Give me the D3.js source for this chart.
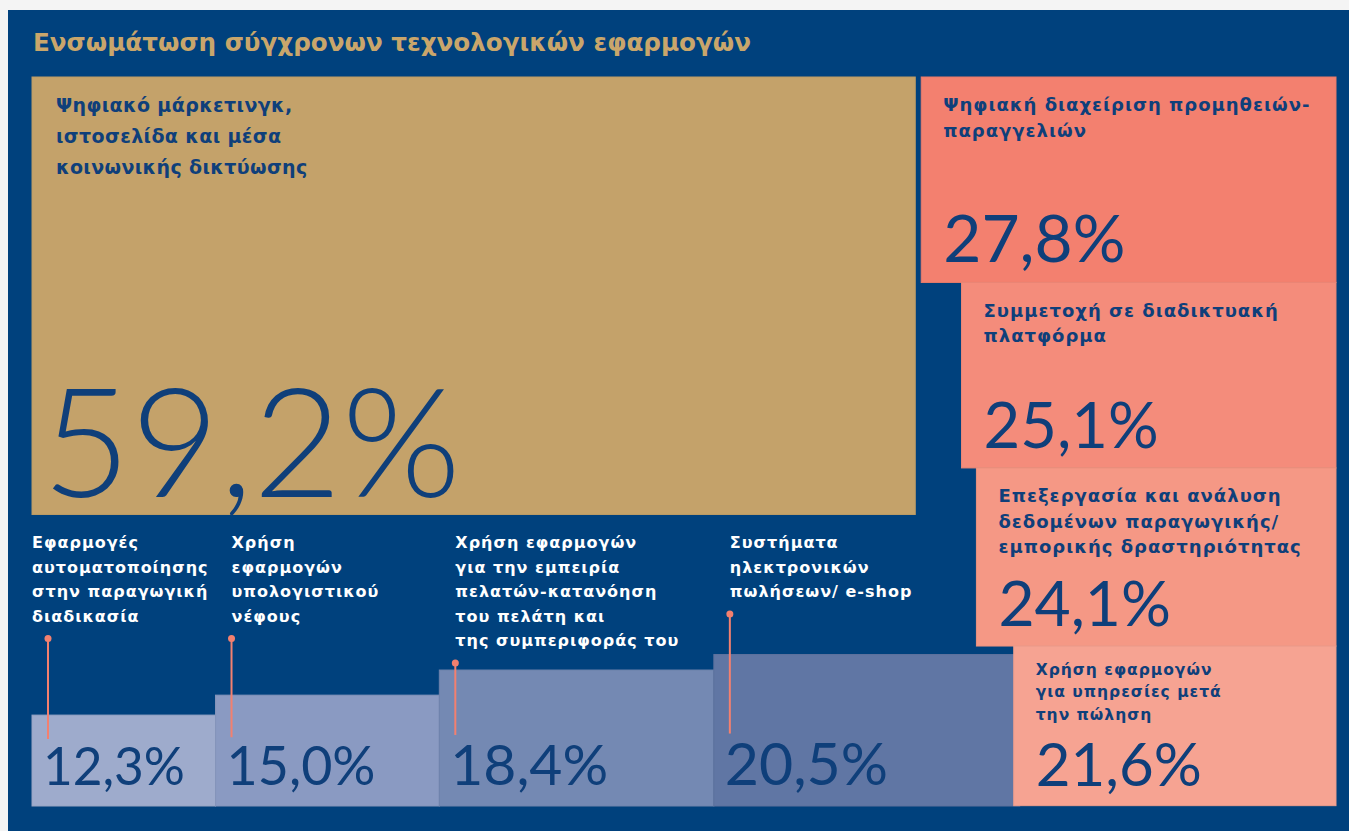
<!DOCTYPE html>
<html>
<head>
<meta charset="utf-8">
<script src="https://cdn.jsdelivr.net/npm/d3@7"></script>
<style>
  body { margin: 0; background: #f4f4f4; }
  svg { display: block; }
  .lbl { font-family: "DejaVu Sans", sans-serif; font-weight: bold; }
  .val { font-family: Lato, sans-serif; }
</style>
</head>
<body>
<svg></svg>
<script>
'use strict';
// chart data
var title = 'Ενσωμάτωση σύγχρονων τεχνολογικών εφαρμογών';
var categories = [
  ['Ψηφιακό μάρκετινγκ,', 'ιστοσελίδα και μέσα', 'κοινωνικής δικτύωσης'],
  ['Ψηφιακή διαχείριση προμηθειών-', 'παραγγελιών'],
  ['Συμμετοχή σε διαδικτυακή', 'πλατφόρμα'],
  ['Επεξεργασία και ανάλυση', 'δεδομένων παραγωγικής/', 'εμπορικής δραστηριότητας'],
  ['Χρήση εφαρμογών', 'για υπηρεσίες μετά', 'την πώληση'],
  ['Εφαρμογές', 'αυτοματοποίησης', 'στην παραγωγική', 'διαδικασία'],
  ['Χρήση', 'εφαρμογών', 'υπολογιστικού', 'νέφους'],
  ['Χρήση εφαρμογών', 'για την εμπειρία', 'πελατών-κατανόηση', 'του πελάτη και', 'της συμπεριφοράς του'],
  ['Συστήματα', 'ηλεκτρονικών', 'πωλήσεων/ e-shop']
];
var values = [59.2, 27.8, 25.1, 24.1, 21.6, 12.3, 15.0, 18.4, 20.5];
var groups = ['main', 'right', 'right', 'right', 'right', 'bottom', 'bottom', 'bottom', 'bottom'];

// colours
var palette = ['#c4a26a', '#f3806f', '#f48c7b', '#f59885', '#f6a392', '#9eabcc', '#8a9ac2', '#7489b3', '#6076a4'];
var navy = '#00417d';
var ink = '#0f3f7a';

var canvasWidth = 1349;
var canvasHeight = 831;
var area = { left: 32, top: 77, right: 1336, bottom: 806 };

var svg = d3.select('svg')
  .attr('width', canvasWidth)
  .attr('height', canvasHeight);

svg.append('rect')
  .attr('x', 8)
  .attr('y', 10)
  .attr('width', canvasWidth - 8)
  .attr('height', canvasHeight - 10)
  .attr('fill', navy);

svg.append('text')
  .attr('x', 33)
  .attr('y', 51)
  .attr('textLength', 718)
  .attr('lengthAdjust', 'spacingAndGlyphs')
  .style('font-family', '"DejaVu Sans Condensed", "DejaVu Sans", sans-serif')
  .style('font-weight', 'bold')
  .style('font-size', '25px')
  .attr('fill', '#c9a66b')
  .text(title);

// scales: each box is value wide and value tall
var xScale = d3.scaleLinear().domain([0, 100]).range([0, 1492]);
var yScale = d3.scaleLinear().domain([0, 100]).range([0, 739]);
var color = d3.scaleOrdinal().domain(d3.range(values.length)).range(palette);
var valueSize = d3.scaleLinear().domain([12, 28]).range([51, 66]).clamp(true);
var labelSize = d3.scaleLinear().domain([21.6, 24.1]).range([15.5, 18]).clamp(true);

var locale = d3.formatLocale({ decimal: ',', thousands: '.', grouping: [3], currency: ['', '€'] });
var fmt = locale.format('.1f');

var cells = values.map(function(v, i) {
  return { i: i, v: v, group: groups[i], lines: categories[i], w: xScale(v), h: yScale(v) };
});

var yCur = area.top;
var xCur = area.left;
cells.forEach(function(d) {
  if (d.group == 'main') {
    d.x = area.left; d.y = area.top;
  } else if (d.group == 'right') {
    d.x = area.right - d.w; d.y = yCur; yCur += d.h;
  } else {
    d.x = xCur; d.y = area.bottom - d.h; xCur += d.w;
  }
});

// draw main, then bottom row, then right column on top
var order = { main: 0, bottom: 1, right: 2 };
var drawn = cells.slice().sort(function(a, b) { return order[a.group] - order[b.group]; });

var cell = svg.selectAll('.cell')
  .data(drawn)
  .enter().append('g')
  .attr('class', 'cell');

cell.append('rect')
  .attr('x', function(d) { return d.x; })
  .attr('y', function(d) { return d.y; })
  .attr('width', function(d) { return d.w; })
  .attr('height', function(d) { return d.h; })
  .attr('fill', function(d) { return color(d.i); })
  .attr('stroke', function(d) { return d3.color(color(d.i)).darker(0.12); })
  .attr('stroke-width', 1);

// label placement per group
var firstBottom = true;
cells.forEach(function(d) {
  if (d.group == 'main') {
    d.lx = d.x + 24; d.ly = d.y + 35; d.lh = 31; d.fs = 19; d.lc = ink; d.ls = 0.4;
    d.vx = d.x + 10; d.vy = d.y + d.h - 17; d.vs = 153; d.vw = 300;
  } else if (d.group == 'right') {
    d.fs = labelSize(d.v);
    d.lx = d.x + 22; d.ly = d.y + d.fs * 1.9; d.lh = d.fs * 1.42; d.lc = ink; d.ls = 1;
    d.vx = d.x + 22; d.vy = d.y + d.h - 20; d.vs = valueSize(d.v); d.vw = 400;
  } else {
    d.fs = 16; d.lh = 24.5; d.lc = '#ffffff'; d.ls = 1;
    d.vx = d.x + 11; d.vy = area.bottom - 21; d.vs = valueSize(d.v); d.vw = 400;
    // first label sits on the chart's left edge, the others are indented
    d.lx = firstBottom ? d.x : d.x + 16; d.ly = 548;
    d.kx = d.x + 16;
    firstBottom = false;
  }
});

cell.append('text')
  .attr('class', 'lbl')
  .attr('fill', function(d) { return d.lc; })
  .style('font-size', function(d) { return d.fs + 'px'; })
  .style('letter-spacing', function(d) { return d.ls + 'px'; })
  .selectAll('tspan')
  .data(function(d) { return d.lines.map(function(t, k) { return { t: t, k: k, p: d }; }); })
  .enter().append('tspan')
  .attr('x', function(l) { return l.p.lx; })
  .attr('y', function(l) { return l.p.ly + l.k * l.p.lh; })
  .text(function(l) { return l.t; });

cell.append('text')
  .attr('class', 'val')
  .attr('x', function(d) { return d.vx; })
  .attr('y', function(d) { return d.vy; })
  .attr('fill', ink)
  .style('font-size', function(d) { return d.vs + 'px'; })
  .style('font-weight', function(d) { return d.vw; })
  .text(function(d) { return fmt(d.v) + '%'; });

// leader lines from bottom labels down into their bars
var leaders = cells.filter(function(d) { return d.group == 'bottom'; });
var lead = svg.selectAll('.leader')
  .data(leaders)
  .enter().append('g')
  .attr('class', 'leader');

lead.append('line')
  .attr('x1', function(d) { return d.kx; })
  .attr('x2', function(d) { return d.kx; })
  .attr('y1', function(d) { return d.ly + (d.lines.length - 1) * d.lh + 17; })
  .attr('y2', function(d) { return d.vy - d.vs * 0.72 - 9; })
  .attr('stroke', '#f3806f')
  .attr('stroke-width', 2);

lead.append('circle')
  .attr('cx', function(d) { return d.kx; })
  .attr('cy', function(d) { return d.ly + (d.lines.length - 1) * d.lh + 17; })
  .attr('r', 3.5)
  .attr('fill', '#f3806f');
</script>
</body>
</html>
